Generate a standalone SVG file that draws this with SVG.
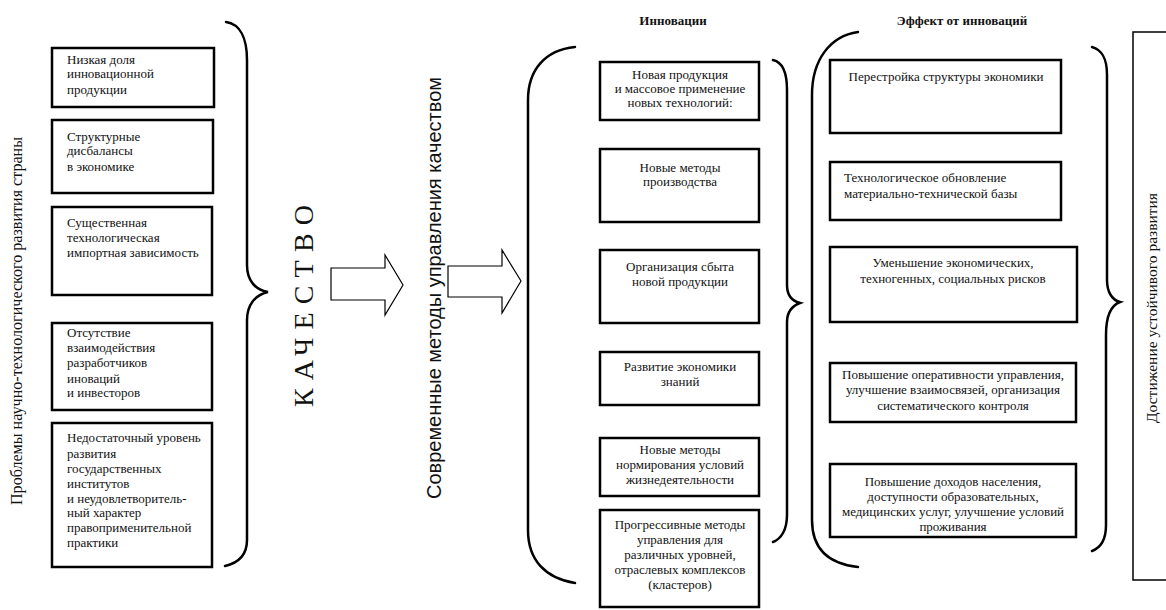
<svg xmlns="http://www.w3.org/2000/svg" width="1166" height="610" viewBox="0 0 1166 610">
<style>
  .bg{fill:#fff}
  .box{fill:#fff;stroke:#000;stroke-width:2.5}
  .fbox{fill:#fff;stroke:#000;stroke-width:1.5}
  .t{font-family:"Liberation Serif","Times New Roman",serif;font-size:13px;fill:#111}
  .c{text-anchor:middle}
  .title{font-family:"Liberation Serif","Times New Roman",serif;font-size:13px;font-weight:bold;fill:#111;text-anchor:middle}
  .vt{font-family:"Liberation Serif","Times New Roman",serif;fill:#111;text-anchor:middle}
  .vs{font-family:"Liberation Sans",Arial,sans-serif;fill:#111;text-anchor:middle}
  .brace{fill:none;stroke:#000;stroke-width:2.5;stroke-linecap:round}
  .arrow{fill:#fff;stroke:#000;stroke-width:1.2}
</style>
<rect class="bg" x="0" y="0" width="1166" height="610"/>

<g id="label-problems">
  <text class="vt" font-size="16" transform="translate(22,321) rotate(-90)" textLength="368" lengthAdjust="spacingAndGlyphs">Проблемы научно-технологического развития страны</text>
</g>

<g id="p1">
  <rect class="box" x="52" y="48" width="162" height="59"/>
  <text class="t" x="67" y="64">Низкая доля</text>
  <text class="t" x="67" y="78">инновационной</text>
  <text class="t" x="67" y="94">продукции</text>
</g>
<g id="p2">
  <rect class="box" x="52" y="120" width="161" height="73"/>
  <text class="t" x="67" y="141">Структурные</text>
  <text class="t" x="67" y="155">дисбалансы</text>
  <text class="t" x="67" y="171">в экономике</text>
</g>
<g id="p3">
  <rect class="box" x="52" y="207" width="160" height="88"/>
  <text class="t" x="67" y="227">Существенная</text>
  <text class="t" x="67" y="242">технологическая</text>
  <text class="t" x="67" y="257">импортная зависимость</text>
</g>
<g id="p4">
  <rect class="box" x="52" y="323" width="160" height="87"/>
  <text class="t" x="67" y="337">Отсутствие</text>
  <text class="t" x="67" y="352">взаимодействия</text>
  <text class="t" x="67" y="367">разработчиков</text>
  <text class="t" x="67" y="383">иноваций</text>
  <text class="t" x="67" y="397">и инвесторов</text>
</g>
<g id="p5">
  <rect class="box" x="52" y="423" width="160" height="144"/>
  <text class="t" x="67" y="442">Недостаточный уровень</text>
  <text class="t" x="67" y="458">развития</text>
  <text class="t" x="67" y="473">государственных</text>
  <text class="t" x="67" y="488">институтов</text>
  <text class="t" x="67" y="503">и неудовлетворитель-</text>
  <text class="t" x="67" y="517">ный характер</text>
  <text class="t" x="67" y="532">правоприменительной</text>
  <text class="t" x="67" y="547">практики</text>
</g>

<g id="label-quality">
  <text class="vt" font-size="28" transform="translate(313,306) rotate(-90)" textLength="202" lengthAdjust="spacing">КАЧЕСТВО</text>
</g>

<g id="label-methods">
  <text class="vs" font-size="21" transform="translate(441,288) rotate(-90)" textLength="422" lengthAdjust="spacingAndGlyphs">Современные методы управления качеством</text>
</g>

<g id="title-innov">
  <text class="title" x="673" y="25">Инновации</text>
</g>
<g id="title-effect">
  <text class="title" x="962" y="25">Эффект от инноваций</text>
</g>

<g id="m1">
  <rect class="box" x="600" y="62" width="159" height="58"/>
  <text class="t c" x="680" y="79">Новая продукция</text>
  <text class="t c" x="680" y="93">и массовое применение</text>
  <text class="t c" x="680" y="107">новых технологий:</text>
</g>
<g id="m2">
  <rect class="box" x="600" y="149" width="159" height="73"/>
  <text class="t c" x="680" y="172">Новые методы</text>
  <text class="t c" x="680" y="186">производства</text>
</g>
<g id="m3">
  <rect class="box" x="600" y="250" width="159" height="73"/>
  <text class="t c" x="680" y="271">Организация сбыта</text>
  <text class="t c" x="680" y="286">новой продукции</text>
</g>
<g id="m4">
  <rect class="box" x="600" y="352" width="159" height="53"/>
  <text class="t c" x="680" y="371">Развитие экономики</text>
  <text class="t c" x="680" y="386">знаний</text>
</g>
<g id="m5">
  <rect class="box" x="600" y="438" width="159" height="58"/>
  <text class="t c" x="680" y="454">Новые методы</text>
  <text class="t c" x="680" y="469">нормирования условий</text>
  <text class="t c" x="680" y="484">жизнедеятельности</text>
</g>
<g id="m6">
  <rect class="box" x="600" y="510" width="159" height="97"/>
  <text class="t c" x="680" y="529">Прогрессивные методы</text>
  <text class="t c" x="680" y="544">управления для</text>
  <text class="t c" x="680" y="559">различных уровней,</text>
  <text class="t c" x="680" y="574">отраслевых комплексов</text>
  <text class="t c" x="680" y="589">(кластеров)</text>
</g>

<g id="r1">
  <rect class="box" x="830" y="60" width="231" height="73"/>
  <text class="t c" x="946" y="81">Перестройка структуры экономики</text>
</g>
<g id="r2">
  <rect class="box" x="830" y="162" width="231" height="58"/>
  <text class="t" x="844" y="182">Технологическое обновление</text>
  <text class="t" x="844" y="198">материально-технической базы</text>
</g>
<g id="r3">
  <rect class="box" x="830" y="247" width="247" height="75"/>
  <text class="t c" x="953" y="267">Уменьшение экономических,</text>
  <text class="t c" x="953" y="283">техногенных, социальных рисков</text>
</g>
<g id="r4">
  <rect class="box" x="830" y="363" width="246" height="59"/>
  <text class="t c" x="953" y="379">Повышение оперативности управления,</text>
  <text class="t c" x="953" y="394">улучшение взаимосвязей, организация</text>
  <text class="t c" x="953" y="410">систематического  контроля</text>
</g>
<g id="r5">
  <rect class="box" x="830" y="464" width="246" height="73"/>
  <text class="t c" x="953" y="486">Повышение доходов населения,</text>
  <text class="t c" x="953" y="501">доступности образовательных,</text>
  <text class="t c" x="953" y="516">медицинских услуг, улучшение условий</text>
  <text class="t c" x="953" y="531">проживания</text>
</g>

<g id="goal">
  <rect class="fbox" x="1133" y="32" width="50" height="548"/>
  <text class="vt" font-size="14.5" transform="translate(1157,308) rotate(-90)" textLength="230" lengthAdjust="spacingAndGlyphs">Достижение устойчивого развития</text>
</g>

<g id="connectors">
  <path class="brace" d="M 226 22 C 240 24 247 38 247 60 L 247 265 C 247 280 255 290 268 292 C 255 295 247 305 247 320 L 247 540 C 247 555 238 563 225 566"/>
  <polygon class="arrow" points="331,268 385,268 385,255 403,285 385,315 385,300 331,300"/>
  <polygon class="arrow" points="448,266 502,266 502,250 521,281 502,313 502,297 448,297"/>
  <path class="brace" d="M 575 47 C 545 50 528 70 528 100 L 528 530 C 528 560 545 578 575 583"/>
  <path class="brace" d="M 773 60 C 782 62 787 72 787 90 L 787 285 C 787 295 792 301 800 303 C 792 306 787 312 787 322 L 787 515 C 787 530 781 539 773 542"/>
  <path class="brace" d="M 858 32 C 830 36 812 60 812 95 L 812 520 C 812 550 830 564 858 567"/>
  <path class="brace" d="M 1092 47 C 1102 50 1107 58 1107 75 L 1107 280 C 1107 292 1112 300 1120 302 C 1112 305 1106 315 1106 335 L 1106 525 C 1106 540 1100 548 1092 551"/>
</g>
</svg>
